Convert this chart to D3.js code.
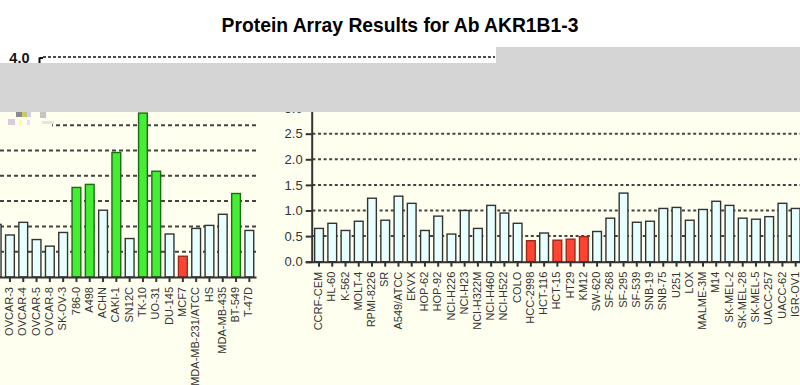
<!DOCTYPE html>
<html>
<head>
<meta charset="utf-8">
<script src="https://d3js.org/d3.v7.min.js"></script>
<style>
  body { margin: 0; background: #fff; }
  svg { display: block; font-family: "Liberation Sans", Arial, sans-serif; }
  .axis path, .axis line { stroke: #333; stroke-width: 2; }
  .axis text { fill: #333; }
</style>
</head>
<body>
<div id="chart"></div>
<script>
// Fold change per cell line, two panels of the same array (the left one is the continuation)
var rightCells = ["CCRF-CEM", "HL-60", "K-562", "MOLT-4", "RPMI-8226", "SR", "A549/ATCC", "EKVX",
  "HOP-62", "HOP-92", "NCI-H226", "NCI-H23", "NCI-H322M", "NCI-H460", "NCI-H522", "COLO",
  "HCC-2998", "HCT-116", "HCT-15", "HT29", "KM12", "SW-620", "SF-268", "SF-295", "SF-539",
  "SNB-19", "SNB-75", "U251", "LOX", "MALME-3M", "M14", "SK-MEL-2", "SK-MEL-28", "SK-MEL-5",
  "UACC-257", "UACC-62", "IGR-OV1"];
var rightValues = [0.65, 0.75, 0.61, 0.79, 1.24, 0.81, 1.28, 1.14,
  0.61, 0.89, 0.54, 1.00, 0.65, 1.10, 0.95, 0.75,
  0.41, 0.56, 0.42, 0.44, 0.49, 0.59, 0.85, 1.34, 0.77,
  0.79, 1.04, 1.06, 0.81, 1.02, 1.18, 1.10, 0.85, 0.83,
  0.88, 1.14, 1.04];

var leftCells = ["IGR-OV1", "OVCAR-3", "OVCAR-4", "OVCAR-5", "OVCAR-8", "SK-OV-3", "786-0", "A498",
  "ACHN", "CAKI-1", "SN12C", "TK-10", "UO-31", "DU-145", "MCF7", "MDA-MB-231/ATCC", "HS",
  "MDA-MB-435", "BT-549", "T-47D"];
var leftValues = [1.04, 0.83, 1.08, 0.74, 0.61, 0.88, 1.77, 1.83,
  1.32, 2.46, 0.76, 3.24, 2.09, 0.85, 0.41, 0.96, 1.02,
  1.24, 1.65, 0.92];

var gridTicks = [0.5, 1.0, 1.5, 2.0, 2.5, 3.0];
var axisTicks = [0.0, 0.5, 1.0, 1.5, 2.0, 2.5, 3.0];
var topTicks = [4.0];
var title = "Protein Array Results for Ab AKR1B1-3";

var width = 800, height = 385;
var svg = d3.select("#chart").append("svg").attr("width", width).attr("height", height);

var defs = svg.append("defs");
var pat = defs.append("pattern").attr("id", "dots").attr("patternUnits", "userSpaceOnUse")
  .attr("width", 8).attr("height", 8);
pat.append("rect").attr("width", 8).attr("height", 8).attr("fill", "#d5d5d5");
pat.append("rect").attr("x", 3).attr("y", 3).attr("width", 1).attr("height", 1).attr("fill", "#e4e4e4");

svg.append("rect").attr("width", width).attr("height", height).attr("fill", "#fff");
svg.append("rect").attr("y", 112).attr("width", width).attr("height", height - 112).attr("fill", "#fffff0");

svg.append("text")
  .attr("x", 400).attr("y", 32)
  .attr("text-anchor", "middle")
  .style("font-size", "19.3px").style("font-weight", "bold")
  .text(title);

function fillFor(v) {
  if (v > 1.5) return "#44ee33";
  if (v < 0.5) return "#ff4433";
  return "#e8ffff";
}
function strokeFor(v) {
  if (v > 1.5) return "#1f6a18";
  if (v < 0.5) return "#9a2a1a";
  return "#333";
}

// draws one bar panel; opts: cells, values, x range, y baseline / px per unit, dash
function drawPanel(opts) {
  var g = svg.append("g");
  var x = d3.scaleBand().domain(opts.cells).range(opts.xRange).padding(0);
  var y = d3.scaleLinear().domain([0, 3.5]).range([opts.base, opts.base - 3.5 * opts.unit]);
  var bw = x.bandwidth();

  g.selectAll("line.grid").data(gridTicks).enter().append("line")
    .attr("class", "grid")
    .attr("x1", Math.max(opts.xRange[0], opts.gridStart)).attr("x2", Math.min(opts.xRange[1], width))
    .attr("y1", function (d) { return y(d); }).attr("y2", function (d) { return y(d); })
    .attr("stroke", "#444").attr("stroke-width", 2)
    .attr("stroke-dasharray", opts.dash);

  g.selectAll("rect.bar").data(opts.values).enter().append("rect")
    .attr("class", "bar")
    .attr("x", function (d, i) { return x(opts.cells[i]) + bw * 0.17; })
    .attr("width", bw * 0.66)
    .attr("y", function (d) { return y(d); })
    .attr("height", function (d) { return y(0) - y(d); })
    .attr("fill", fillFor)
    .attr("stroke", strokeFor)
    .attr("stroke-width", 1.4);

  var xAxis = g.append("g").attr("class", "axis")
    .attr("transform", "translate(0," + opts.base + ")")
    .call(d3.axisBottom(x).tickSize(5).tickSizeOuter(0));
  xAxis.selectAll("text")
    .attr("transform", "rotate(-90)")
    .attr("x", -10).attr("y", 0).attr("dy", "0.28em")
    .style("text-anchor", "end")
    .style("font-size", "11px");
  // labels whose tick falls off the left edge are not shown
  xAxis.selectAll(".tick").filter(function (d) { return x(d) + bw / 2 < 0; }).select("text").remove();

  return { g: g, x: x, y: y };
}

drawPanel({ cells: leftCells, values: leftValues, xRange: [-10, 256], base: 277, unit: 50.6, dash: "4,3", gridStart: 0 });
var right = drawPanel({ cells: rightCells, values: rightValues, xRange: [312.4, 802.3], base: 261.7, unit: 51.2, dash: "3,2.6", gridStart: 312 });

right.g.append("g").attr("class", "axis")
  .attr("transform", "translate(311.7,0)")
  .call(d3.axisLeft(right.y).tickValues(axisTicks).tickSize(6).tickPadding(3).tickFormat(d3.format(".1f")))
  .selectAll("text").style("font-size", "13px");

// top fragment of another copy of the axis
var topY = d3.scaleLinear().domain([0, 4]).range([57.5 + 4 * 50.6, 57.5]);
var topG = svg.append("g");
topG.selectAll("line.top").data(topTicks).enter().append("line")
  .attr("x1", 43).attr("x2", 495)
  .attr("y1", function (d) { return topY(d) - 0.5; }).attr("y2", function (d) { return topY(d) - 0.5; })
  .attr("stroke", "#111").attr("stroke-width", 1.6).attr("stroke-dasharray", "3,2");
topG.append("g")
  .attr("transform", "translate(39.5,0)")
  .call(d3.axisLeft(topY).tickValues(topTicks).tickSize(7).tickPadding(3).tickFormat(d3.format(".1f")))
  .call(function (a) {
    a.select(".domain").remove();
    a.selectAll("line").attr("stroke", "#111").attr("stroke-width", 2).attr("x2", 3.5);
    a.selectAll("text").style("font-size", "14.5px").style("font-weight", "bold").attr("fill", "#111");
  });
topG.append("line").attr("x1", 39.5).attr("x2", 39.5).attr("y1", topY(4)).attr("y2", 64)
  .attr("stroke", "#111").attr("stroke-width", 2);

// grey band over the top of both panels
svg.append("rect").attr("x", 0).attr("y", 63).attr("width", width).attr("height", 49).attr("fill", "url(#dots)");
svg.append("rect").attr("x", 496).attr("y", 47).attr("width", width - 496).attr("height", 17).attr("fill", "url(#dots)");

// small glitch specks under the band
var specks = svg.append("g");
specks.append("rect").attr("x", 0).attr("y", 112).attr("width", 52).attr("height", 15).attr("fill", "#fffff0");
specks.append("rect").attr("x", 8).attr("y", 119).attr("width", 7).attr("height", 6).attr("fill", "#d8ccd8");
specks.append("rect").attr("x", 16).attr("y", 112).attr("width", 6).attr("height", 5).attr("fill", "#8a8a8a");
specks.append("rect").attr("x", 22).attr("y", 112).attr("width", 5).attr("height", 5).attr("fill", "#c4cc6a");
specks.append("rect").attr("x", 27).attr("y", 112).attr("width", 4).attr("height", 5).attr("fill", "#d0d0f0");
specks.append("rect").attr("x", 19).attr("y", 120).attr("width", 3).attr("height", 5).attr("fill", "#ffff90");
specks.append("rect").attr("x", 27).attr("y", 120).attr("width", 3).attr("height", 5).attr("fill", "#f6d8f0");
specks.append("rect").attr("x", 40).attr("y", 112).attr("width", 6).attr("height", 6).attr("fill", "#c4c4c4");
specks.append("rect").attr("x", 42).attr("y", 121).attr("width", 12).attr("height", 3).attr("fill", "#e6e6e0");
</script>
</body>
</html>
